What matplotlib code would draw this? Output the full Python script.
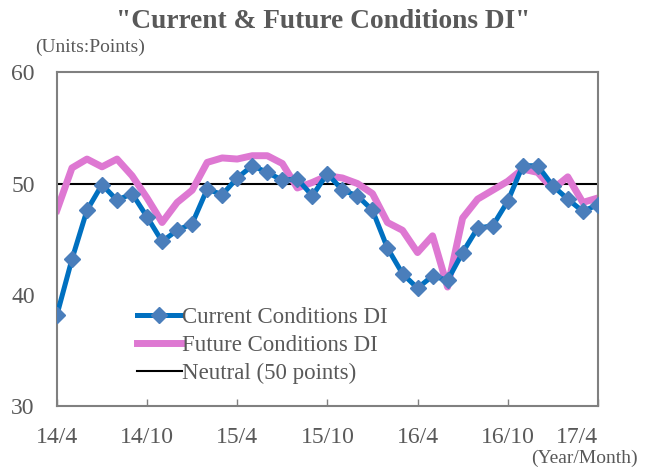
import matplotlib
matplotlib.use("Agg")
import matplotlib.pyplot as plt
import numpy as np

plt.rcParams['font.family'] = ['Liberation Serif', 'DejaVu Serif']

# monthly values 2014/4 .. 2017/4
current = [38.2, 43.2, 47.6, 49.9, 48.5, 49.1, 47.0, 44.8, 45.8, 46.4,
           49.5, 49.0, 50.5, 51.6, 51.0, 50.3, 50.4, 48.9, 50.9, 49.4,
           48.9, 47.6, 44.2, 41.9, 40.6, 41.7, 41.3, 43.8, 46.0, 46.2,
           48.4, 51.6, 51.6, 49.8, 48.6, 47.5, 48.1]
future = [47.6, 51.4, 52.2, 51.5, 52.2, 50.7, 48.7, 46.5, 48.3, 49.4,
          51.9, 52.3, 52.2, 52.5, 52.5, 51.8, 49.6, 50.1, 50.7, 50.5,
          50.0, 49.1, 46.5, 45.8, 43.8, 45.3, 40.7, 46.9, 48.6, 49.4,
          50.2, 51.3, 51.0, 49.5, 50.6, 48.3, 48.7]
neutral = 50
tick_labels = ["14/4", "14/10", "15/4", "15/10", "16/4", "16/10", "17/4"]

grey = '#595959'
x = np.arange(len(current))

fig = plt.figure(figsize=(6.47, 4.69), dpi=100)
ax = fig.add_axes([0.088, 0.134, 0.836, 0.712])

ax.axhline(neutral, color='black', linewidth=1.5, zorder=1,
           label='Neutral (50 points)')
ax.plot(x, current, color='#0070C0', linewidth=3.6, marker='D',
        markersize=8.2, markerfacecolor='#4A7EBB', markeredgecolor='#4A7EBB',
        zorder=3, label='Current Conditions DI')
ax.plot(x, future, color='#DE78D2', linewidth=5, zorder=2,
        label='Future Conditions DI')

ax.set_xlim(0, len(current) - 1)
ax.set_ylim(30, 60)
ax.set_yticks([30, 40, 50, 60])
ax.set_xticks(np.arange(0, len(current), 6))
ax.set_xticklabels(tick_labels)
ax.tick_params(axis='x', direction='in', length=5, width=1, color='#808080',
               labelsize=17, labelcolor=grey, pad=15)
ax.tick_params(axis='y', length=0, labelsize=17, labelcolor=grey, pad=16)
ax.get_xticklabels()[-1].set_horizontalalignment('right')
for s in ax.spines.values():
    s.set_color('#808080')
    s.set_linewidth(1.5)

# order legend: current, future, neutral
h, l = ax.get_legend_handles_labels()
order = [1, 2, 0]
ax.legend([h[i] for i in order], [l[i] for i in order], frameon=False,
          loc='upper left', bbox_to_anchor=(0.11, 0.36), fontsize=16.5,
          handlelength=1.95, handletextpad=0.0, labelspacing=0.3,
          labelcolor=grey)

fig.text(0.5, 0.955, '"Current & Future Conditions DI"', ha='center',
         va='center', fontsize=19.7, fontweight='bold', color=grey)
fig.text(0.054, 0.9, '(Units:Points)', ha='left', va='center',
         fontsize=14, color=grey)
fig.text(0.985, 0.022, '(Year/Month)', ha='right', va='center',
         fontsize=14, color=grey)

fig.savefig('out.png', dpi=100)
